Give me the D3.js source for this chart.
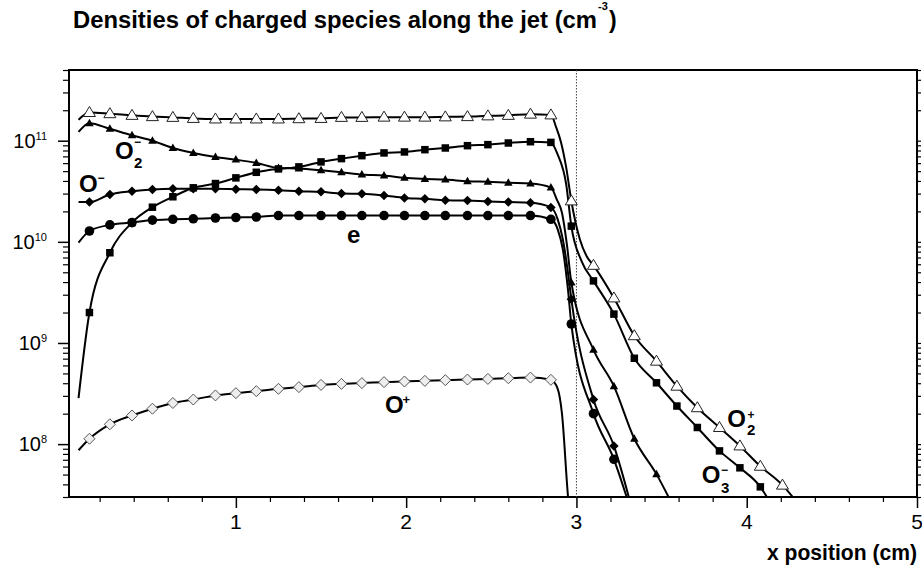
<!DOCTYPE html>
<html><head><meta charset="utf-8">
<script src="https://cdn.jsdelivr.net/npm/d3@7"></script>
<style>body{margin:0;background:#fff}svg{display:block}</style>
</head><body>
<svg id="chart" width="922" height="571"></svg>
<script>
// ---------- data ----------
const markerX = [0.14,0.26,0.39,0.51,0.63,0.75,0.88,1.00,1.12,1.25,1.37,1.50,1.62,1.74,1.87,1.99,2.11,2.23,2.36,2.48,2.60,2.73,2.85,2.97,3.10,3.22,3.34,3.47,3.59,3.71,3.84,3.96,4.08,4.21];

// O2+ (open triangles)
const o2plusV = [1.90e11,1.85e11,1.78e11,1.73e11,1.70e11,1.66e11,1.64e11,1.64e11,1.64e11,1.64e11,1.65e11,1.66e11,1.70e11,1.70e11,1.71e11,1.71e11,1.71e11,1.72e11,1.73e11,1.76e11,1.78e11,1.83e11,1.80e11,2.54e10,5.86e9,2.79e9,1.18e9,6.61e8,3.74e8,2.29e8,1.46e8,9.6e7,6.04e7,3.93e7];
const o2plusExtra = [[0.076,1.61e11],[2.88,1.37e11],[2.91,9.56e10],[2.94,5.42e10],[3.02,1.06e10],[3.06,7.2e9],[4.30,2.6e7]];

// O3- (filled squares)
const o3minusV = [2.0e9,7.8e9,1.55e10,2.2e10,2.79e10,3.42e10,3.77e10,4.29e10,4.87e10,5.26e10,5.51e10,6.17e10,6.65e10,7.11e10,7.57e10,7.74e10,8.15e10,8.47e10,8.93e10,9.14e10,9.49e10,9.77e10,9.62e10,1.43e10,4.11e9,1.93e9,7.06e8,4.04e8,2.38e8,1.46e8,8.57e7,5.83e7,3.78e7];
const o3minusExtra = [[0.076,2.85e8],[2.89,7.28e10],[2.94,3.69e10],[3.03,6.43e9],[4.14,2.6e7]];

// O2- (filled triangles)
const o2minusV = [1.49e11,1.31e11,1.13e11,1.0e11,8.47e10,7.57e10,6.90e10,6.50e10,6.03e10,5.38e10,5.30e10,5.09e10,4.87e10,4.62e10,4.52e10,4.29e10,4.19e10,4.13e10,3.97e10,3.92e10,3.83e10,3.77e10,3.44e10,3.96e9,8.59e8,3.74e8,1.13e8,5.05e7];
const o2minusExtra = [[0.076,1.22e11],[2.885,2.62e10],[2.915,1.94e10],[2.945,9.1e9],[3.56,2.6e7]];

// O- (filled diamonds)
const ominusV = [2.47e10,2.94e10,3.16e10,3.29e10,3.34e10,3.34e10,3.34e10,3.31e10,3.29e10,3.24e10,3.16e10,3.12e10,3.00e10,2.98e10,2.87e10,2.72e10,2.67e10,2.58e10,2.56e10,2.51e10,2.47e10,2.43e10,2.19e10,2.71e9,2.76e8,9.6e7];
const ominusExtra = [[0.076,2.47e10],[2.89,1.67e10],[2.92,1.06e10],[2.95,5.0e9],[3.32,2.5e7]];

// e (filled circles)
const elecV = [1.28e10,1.47e10,1.55e10,1.64e10,1.67e10,1.69e10,1.72e10,1.74e10,1.76e10,1.82e10,1.82e10,1.82e10,1.82e10,1.82e10,1.82e10,1.82e10,1.82e10,1.82e10,1.82e10,1.82e10,1.82e10,1.82e10,1.67e10,1.54e9,2.0e8,7.08e7];
const elecExtra = [[0.076,9.8e9],[2.89,1.33e10],[2.92,8.44e9],[2.95,3.4e9],[3.31,2.5e7]];

// O+ (open diamonds)
const oplusV = [1.13e8,1.57e8,1.92e8,2.24e8,2.55e8,2.76e8,3.03e8,3.19e8,3.34e8,3.52e8,3.66e8,3.85e8,3.94e8,4.01e8,4.10e8,4.16e8,4.22e8,4.29e8,4.35e8,4.41e8,4.48e8,4.55e8,4.32e8];
const oplusExtra = [[0.076,8.7e7],[2.89,3.52e8],[2.915,2.0e8],[2.95,3.1e7],[2.955,2.5e7]];

const xTickValues = [1,2,3,4,5];
const xTickLabels = ["1","2","3","4","5"];
const yTickValues = [1e8,1e9,1e10,1e11];
const yTickExps = ["8","9","10","11"];

// ---------- setup ----------
const FONT = "'Liberation Sans', Arial, Helvetica, sans-serif";
const svg = d3.select("#chart");
const L = 69, R = 917, T = 70, B = 497;
const x = d3.scaleLinear().domain([0.02, 5]).range([L, R]);
const y = d3.scaleLog().domain([3e7, 5e11]).range([B, T]);

const yMinor = [];
for (let e = 7; e <= 11; e++) for (let m = 2; m <= 9; m++) {
  const v = m * Math.pow(10, e);
  if (v >= 3e7 && v <= 5e11) yMinor.push(v);
}
const xMinor = d3.range(1, 25).map(i => i * 0.2).filter(v => Math.abs(v - Math.round(v)) > 1e-6);

function styleAxis(g, w) {
  g.select(".domain").remove();
  g.selectAll(".tick line").attr("stroke", "#000").attr("stroke-width", w);
  g.selectAll(".tick text").remove();
}
// left axis
svg.append("g").attr("transform", `translate(${L},0)`)
  .call(d3.axisLeft(y).tickValues(yTickValues).tickSize(11).tickSizeOuter(0).tickFormat(""))
  .call(g => styleAxis(g, 1.5));
svg.append("g").attr("transform", `translate(${L},0)`)
  .call(d3.axisLeft(y).tickValues(yMinor).tickSize(6).tickSizeOuter(0).tickFormat(""))
  .call(g => styleAxis(g, 1.2));
// right axis
svg.append("g").attr("transform", `translate(${R},0)`)
  .call(d3.axisRight(y).tickValues(yTickValues.concat(yMinor)).tickSize(4).tickSizeOuter(0).tickFormat(""))
  .call(g => styleAxis(g, 1.2));
// bottom axis
svg.append("g").attr("transform", `translate(0,${B})`)
  .call(d3.axisBottom(x).tickValues(xTickValues).tickSize(11).tickSizeOuter(0).tickFormat(""))
  .call(g => styleAxis(g, 1.5));
svg.append("g").attr("transform", `translate(0,${B})`)
  .call(d3.axisBottom(x).tickValues(xMinor).tickSize(5).tickSizeOuter(0).tickFormat(""))
  .call(g => styleAxis(g, 1.2));

// frame
svg.append("rect").attr("x", L).attr("y", T).attr("width", R - L).attr("height", B - T)
  .attr("fill", "none").attr("stroke", "#000").attr("stroke-width", 2);

// tick labels
xTickValues.forEach((v, i) => {
  svg.append("text").attr("x", x(v)).attr("y", 529).attr("text-anchor", "middle")
    .attr("font-family", FONT).attr("font-size", 21).text(xTickLabels[i]);
});
yTickValues.forEach((v, i) => {
  const t = svg.append("text").attr("x", 47).attr("y", y(v) + 7).attr("text-anchor", "end")
    .attr("font-family", FONT).attr("font-size", 20);
  t.append("tspan").text("10");
  t.append("tspan").attr("font-size", 11).attr("dy", -8).text(yTickExps[i]);
});

// dotted line at x = 3
svg.append("line").attr("x1", x(3)).attr("x2", x(3)).attr("y1", T).attr("y2", B)
  .attr("stroke", "#444").attr("stroke-width", 1).attr("stroke-dasharray", "1.5,1.5");

// clip
svg.append("clipPath").attr("id", "clip").append("rect")
  .attr("x", L).attr("y", T).attr("width", R - L).attr("height", B - T);

const series = [
  {v: o2plusV, extra: o2plusExtra, m: "otri"},
  {v: o3minusV, extra: o3minusExtra, m: "square"},
  {v: o2minusV, extra: o2minusExtra, m: "tri"},
  {v: ominusV, extra: ominusExtra, m: "diamond"},
  {v: elecV, extra: elecExtra, m: "circle"},
  {v: oplusV, extra: oplusExtra, m: "odiamond"}
];

const line = d3.line().x(d => x(d[0])).y(d => y(d[1])).curve(d3.curveMonotoneX);
const gLines = svg.append("g").attr("clip-path", "url(#clip)");
const gMarks = svg.append("g").attr("clip-path", "url(#clip)");

series.forEach(s => {
  const pts = s.v.map((v, i) => [markerX[i], v]).concat(s.extra).sort((a, b) => a[0] - b[0]);
  gLines.append("path").datum(pts).attr("d", line)
    .attr("fill", "none").attr("stroke", "#000").attr("stroke-width", 2);
});

function tri(w, h) { return `M0,${-h*0.6}L${w/2},${h*0.4}L${-w/2},${h*0.4}Z`; }
function dia(w, h) { return `M0,${-h/2}L${w/2},0L0,${h/2}L${-w/2},0Z`; }
function sq(s) { return `M${-s/2},${-s/2}h${s}v${s}h${-s}Z`; }

series.forEach(s => {
  const pts = s.v.map((v, i) => [markerX[i], v]);
  const sel = gMarks.append("g").selectAll("path").data(pts).join(s.m === "circle" ? "circle" : "path");
  if (s.m === "circle") {
    sel.attr("cx", d => x(d[0])).attr("cy", d => y(d[1])).attr("r", 4.8).attr("fill", "#000");
    return;
  }
  sel.attr("transform", d => `translate(${x(d[0])},${y(d[1])})`);
  if (s.m === "otri") sel.attr("d", tri(12, 10)).attr("fill", "#fff").attr("stroke", "#222").attr("stroke-width", 1);
  if (s.m === "tri") sel.attr("d", tri(8.5, 7.5)).attr("fill", "#000");
  if (s.m === "square") sel.attr("d", sq(7.5)).attr("fill", "#000");
  if (s.m === "diamond") sel.attr("d", dia(9.5, 9.5)).attr("fill", "#000");
  if (s.m === "odiamond") sel.attr("d", dia(11, 11)).attr("fill", "#eee").attr("stroke", "#555").attr("stroke-width", 1);
});

// ---------- text ----------
function txt(xp, yp, s, size, weight, extra) {
  const t = svg.append("text").attr("x", xp).attr("y", yp).attr("font-family", FONT)
    .attr("font-size", size).attr("font-weight", weight || "normal").text(s);
  if (extra) extra(t);
  return t;
}
// title
txt(73, 28, "Densities of charged species along the jet (cm", 23, "bold",
  t => t.attr("textLength", 524).attr("lengthAdjust", "spacingAndGlyphs"));
txt(598, 10, "-3", 11, "bold");
txt(609, 28, ")", 23, "bold");
// x axis title
txt(917, 560, "x position (cm)", 22, "bold",
  t => t.attr("text-anchor", "end").attr("textLength", 150).attr("lengthAdjust", "spacingAndGlyphs"));

// species labels (sub/superscripts stacked as in the reference)
txt(115, 158.5, "O", 24, "bold"); txt(134, 168, "2", 15, "bold"); txt(134, 146, "\u2212", 12, "bold");
txt(79, 192, "O", 24, "bold"); txt(97.5, 181.5, "\u2212", 12, "bold");
txt(347, 243, "e", 24, "bold");
txt(385, 412.5, "O", 24, "bold"); txt(402.5, 404, "+", 13, "bold");
txt(727.3, 426.5, "O", 24, "bold"); txt(747, 435, "2", 15, "bold"); txt(747.5, 418.5, "+", 12, "bold");
txt(701.7, 483, "O", 24, "bold"); txt(721, 492.5, "3", 15, "bold"); txt(721, 473.5, "\u2212", 12, "bold");
</script>
</body></html>
